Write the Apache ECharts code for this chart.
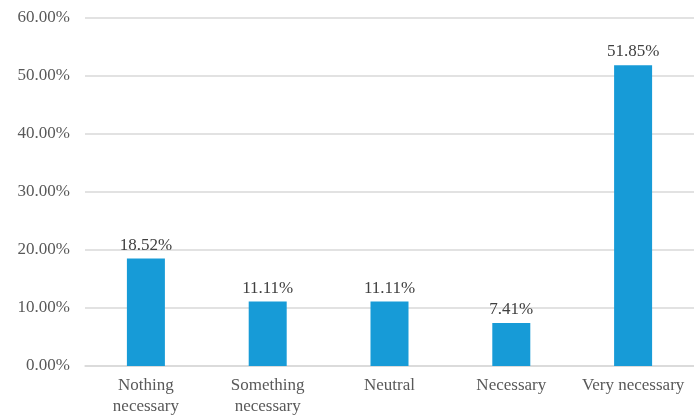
<!DOCTYPE html>
<html>
<head>
<meta charset="utf-8">
<script src="https://cdn.jsdelivr.net/npm/echarts@6/dist/echarts.min.js"></script>
<style>html,body{margin:0;padding:0;background:#fff}#c{width:694px;height:419px}</style>
</head>
<body>
<div id="c"></div>
<script>
const categories = ["Nothing\nnecessary", "Something\nnecessary", "Neutral", "Necessary", "Very necessary"];
const values = [18.52, 11.11, 11.11, 7.41, 51.85];
const yTicks = [0, 10, 20, 30, 40, 50, 60];

const chart = echarts.init(document.getElementById('c'));
const serif = '"Liberation Serif", "Times New Roman", serif';
chart.setOption({
  animation: false,
  grid: { left: 85, top: 18, width: 615, height: 348, containLabel: false },
  xAxis: {
    type: 'category',
    data: categories,
    axisTick: { show: false },
    axisLine: { lineStyle: { color: '#d9d9d9', width: 1.5 } },
    axisLabel: { interval: 0, hideOverlap: false, fontFamily: serif, fontSize: 17, color: '#595959', margin: 9, lineHeight: 21 }
  },
  yAxis: {
    type: 'value',
    min: yTicks[0],
    max: yTicks[yTicks.length - 1],
    interval: 10,
    axisLine: { show: false },
    axisTick: { show: false },
    splitLine: { lineStyle: { color: '#d9d9d9', width: 1.5 } },
    axisLabel: { fontFamily: serif, fontSize: 17, color: '#595959', margin: 15,
      formatter: v => v.toFixed(2) + '%' }
  },
  series: [{
    type: 'bar',
    data: values,
    barWidth: 38,
    itemStyle: { color: '#179bd7' },
    label: { show: true, position: 'top', distance: 5, fontFamily: serif, fontSize: 17, color: '#404040',
      formatter: p => p.value.toFixed(2) + '%' }
  }]
});
</script>
</body>
</html>
